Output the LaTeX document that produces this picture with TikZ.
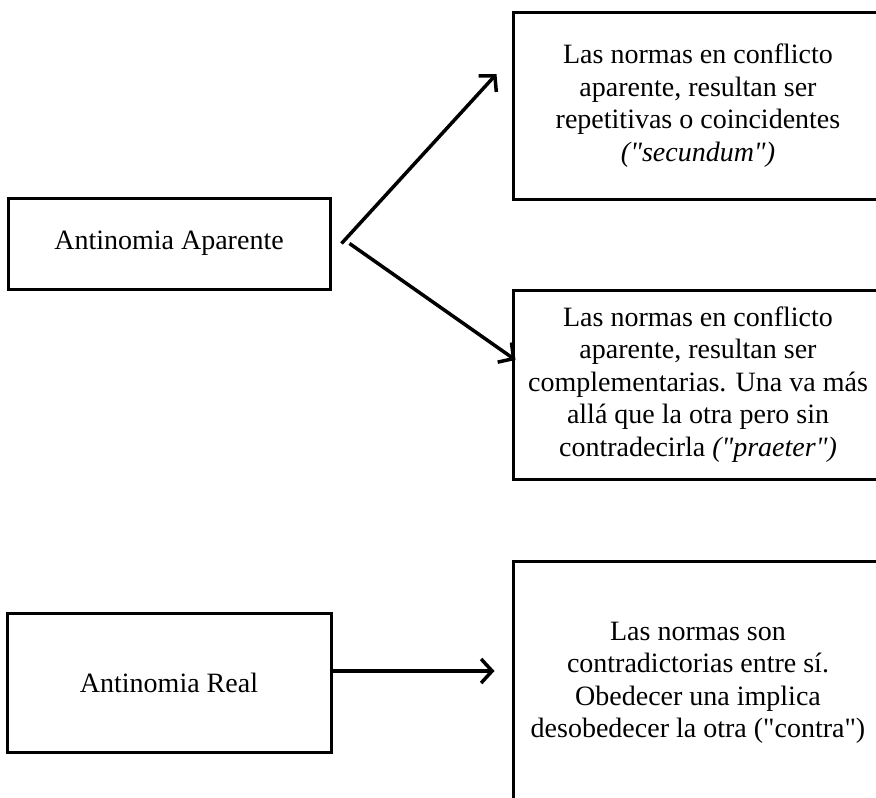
\documentclass[tikz,border=0pt]{standalone}
\usepackage{fontspec}
\setmainfont{Liberation Serif}
\usetikzlibrary{arrows.meta,calc}
\newcommand{\dq}{\textquotedbl}
\begin{document}
\begin{tikzpicture}[x=1pt,y=-1pt,
  box/.style={draw=black,line width=3pt,rectangle,inner sep=0pt,align=center,
    font=\fontsize{28}{32.5}\selectfont},
  conn/.style={line width=3.5pt,-{Straight Barb[length=11pt,width=24pt,line width=3.5pt]}}]
\useasboundingbox (0,0) rectangle (876,798);
\clip (0,0) rectangle (876,798);
\node[box,minimum width=322pt,minimum height=91pt] (A) at (169,243.5) {Antinomia Aparente};
\node[box,minimum width=370pt,minimum height=187pt] (T1) at (698,105.5)
  {Las normas en conflicto\\aparente, resultan ser\\repetitivas o coincidentes\\\textit{(\dq secundum\dq)}};
\node[box,minimum width=370pt,minimum height=189pt] (T2) at (698,384.5)
  {Las normas en conflicto\\aparente, resultan ser\\complementarias. Una va más\\allá que la otra pero sin\\contradecirla \textit{(\dq praeter\dq)}};
\node[box,minimum width=324pt,minimum height=139pt] (R) at (169,682.5) {Antinomia Real};
\node[box,minimum width=370pt,minimum height=244pt] (T3) at (698,683)
  {Las normas son\\contradictorias entre sí.\\Obedecer una implica\\desobedecer la otra (\dq contra\dq)};
\coordinate (a1s) at ($(A.east)+(10,0)$);
\coordinate (a1e) at ($(T1.west)+(-15,-31.5)$);
\coordinate (a2s) at ($(A.east)+(18,0)$);
\coordinate (a2e) at ($(T2.west)+(4,-24.5)$);
\coordinate (a3s) at ($(R.east)+(0,-11.5)$);
\coordinate (a3e) at ($(T3.west)+(-17,-12)$);
\draw[conn] (a1s) -- (a1e);
\draw[conn] (a2s) -- (a2e);
\draw[conn] (a3s) -- (a3e);
\end{tikzpicture}
\end{document}
